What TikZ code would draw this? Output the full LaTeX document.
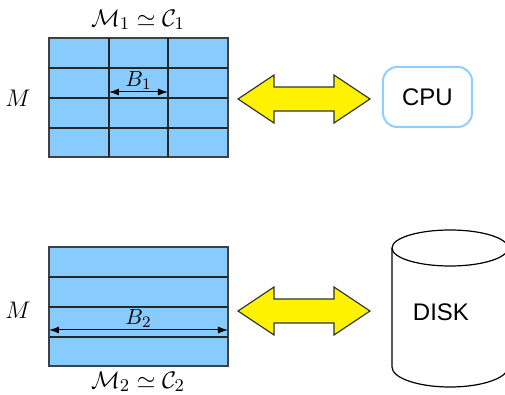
\documentclass[tikz,border=0pt]{standalone}
\usepackage{fontspec}
\newfontfamily\helv{Liberation Sans}
\usetikzlibrary{arrows.meta}
\definecolor{memblue}{HTML}{88CCFF}
\definecolor{cpuedge}{HTML}{8FCFFF}
\tikzset{
  mem/.style={fill=memblue,draw=black!75,line width=0.6pt},
  gridline/.style={draw=black!85,line width=0.55pt},
  blockarrow/.style={{Latex[length=5pt,width=3.5pt]}-{Latex[length=5pt,width=3.5pt]},line width=0.5pt},
  bigarrow/.style={fill=yellow,draw=black!80,line width=0.6pt,line join=miter},
  lbl/.style={font=\fontsize{12.5}{14}\selectfont},
  blbl/.style={midway,above,inner sep=1pt,font=\fontsize{11}{13}\selectfont},
  dev/.style={font=\helv\fontsize{12}{14}\selectfont},
  cpubox/.style={dev,draw=cpuedge,line width=1pt,rounded corners=7pt,minimum width=44.5pt,minimum height=30pt},
  dblarrow/.pic={
    \draw[bigarrow] (0,0) -- ++(36,-24) -- ++(0,12) -- ++(60,0) -- ++(0,-12)
      -- ++(36,24) -- ++(-36,24) -- ++(0,-12) -- ++(-60,0) -- ++(0,12) -- cycle;
  },
}
\begin{document}
\begin{tikzpicture}[x=0.5pt,y=-0.5pt]
\useasboundingbox (0,0) rectangle (505,395);
\clip (0,0) rectangle (505,395);

% cache memory, blocks B1
\draw[mem] (49,38) rectangle (228,157);
\foreach \y in {68,98,128} \draw[gridline] (49,\y) -- (228,\y);
\foreach \x in {109,168} \draw[gridline] (\x,38) -- (\x,157);
\node[lbl] (mcal1) at (138,20) {$\mathcal{M}_1\simeq\mathcal{C}_1$};
\node[lbl] (mtop) at (18,98) {$M$};
\coordinate (b1l) at (109,92);
\coordinate (b1r) at (168,92);
\draw[blockarrow] (b1l) -- (b1r) node[blbl] {$B_1$};

% disk memory, blocks B2
\draw[mem] (49,247) rectangle (228,366);
\foreach \y in {277,307,337} \draw[gridline] (49,\y) -- (228,\y);
\node[lbl] (mcal2) at (138,382) {$\mathcal{M}_2\simeq\mathcal{C}_2$};
\node[lbl] (mbot) at (18,310) {$M$};
\coordinate (b2l) at (49,330);
\coordinate (b2r) at (228,330);
\draw[blockarrow] (b2l) -- (b2r) node[blbl] {$B_2$};

% exchange arrows
\coordinate (xtop) at (238,99);
\coordinate (xbot) at (238,311);
\pic at (xtop) {dblarrow};
\pic at (xbot) {dblarrow};

% devices
\node[cpubox] (cpu) at (427.5,97) {CPU};
\draw[fill=white,line width=0.6pt] (392,248) -- (392,367)
  arc[start angle=180,end angle=0,x radius=58,y radius=20] -- (508,248);
\draw[fill=white,line width=0.6pt] (450,248) ellipse[x radius=58,y radius=18];
\node[dev] (disk) at (441,312) {DISK};
\end{tikzpicture}
\end{document}
